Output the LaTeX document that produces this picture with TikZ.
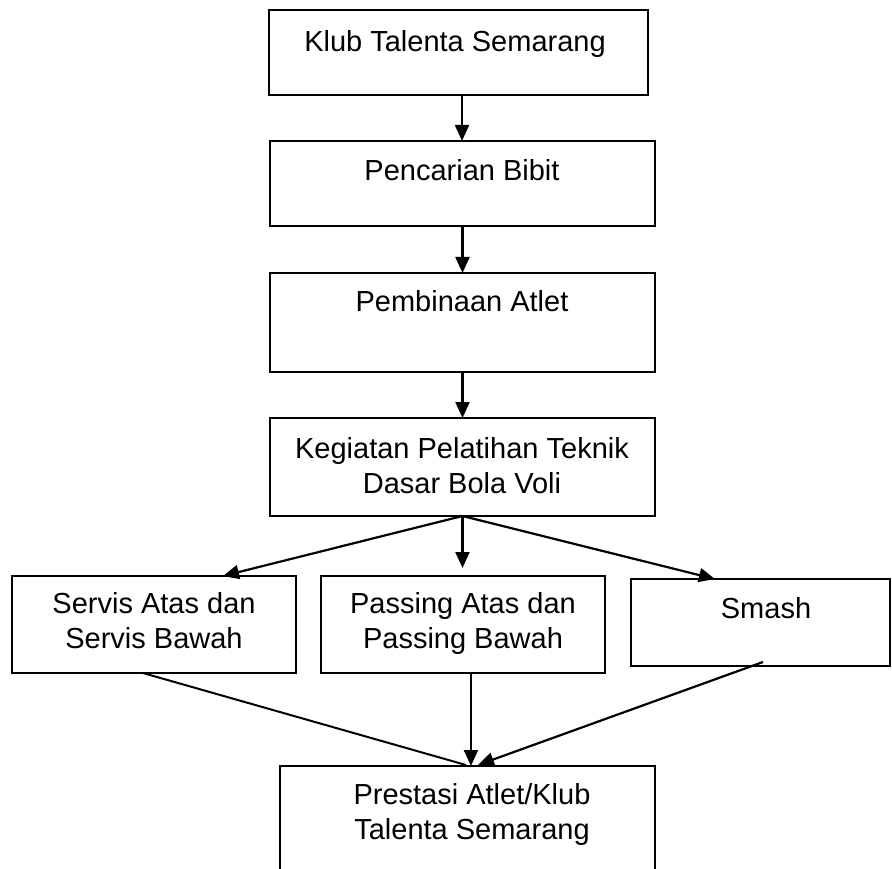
\documentclass[tikz,border=0pt]{standalone}
\usepackage{fontspec}
\setmainfont{Liberation Sans}
\usetikzlibrary{arrows.meta,calc}
\begin{document}
\begin{tikzpicture}[x=1pt,y=-1pt,
  box/.style={draw,line width=2pt,inner sep=0pt,outer sep=0pt},
  txt/.style={font=\fontsize{29}{34.5}\selectfont,inner sep=0pt,align=center,anchor=base},
  arr/.style={line width=2.2pt,-{Triangle[length=16pt,width=14pt]}},
  ln/.style={line width=2pt}]
\clip (0,0) rectangle (892,869);
\fill[white] (0,0) rectangle (892,869);
% boxes
\node[box,minimum width=379pt,minimum height=85pt] (b1) at (458.5,52.5) {};
\node[box,minimum width=385pt,minimum height=85pt] (b2) at (462,183.5) {};
\node[box,minimum width=385pt,minimum height=99pt] (b3) at (462.5,322.5) {};
\node[box,minimum width=385pt,minimum height=98pt] (b4) at (462.5,467) {};
\node[box,minimum width=284pt,minimum height=97pt] (L) at (154,624.5) {};
\node[box,minimum width=284pt,minimum height=97pt] (M) at (463,624.5) {};
\node[box,minimum width=259pt,minimum height=87pt] (S) at (760.5,622.5) {};
\node[box,minimum width=375pt,minimum height=134pt] (P) at (467.5,833) {};
% texts (multi-line nodes: base = last line)
\node[txt] (t1) at (455,52) {Klub Talenta Semarang};
\node[txt] (t2) at (462,181) {Pencarian Bibit};
\node[txt] (t3) at (462,312) {Pembinaan Atlet};
\node[txt] (t4) at (462,493) {Kegiatan Pelatihan Teknik\\Dasar Bola Voli};
\node[txt] (tL) at (154,648) {Servis Atas dan\\Servis Bawah};
\node[txt] (tM) at (463,648) {Passing Atas dan\\Passing Bawah};
\node[txt] (tS) at (766,618) {Smash};
\node[txt] (tP) at (472,839) {Prestasi Atlet/Klub\\Talenta Semarang};
% vertical arrows
\draw[arr] (b2.north |- b1.south) -- (b2.north);
\draw[arr] (b3.north |- b2.south) -- (b3.north);
\draw[arr] (b3.south) -- (b4.north);
% fan
\coordinate (fanL) at ($(L.north west)!0.743!(L.north east)$);
\coordinate (fanS) at ($(S.north west)!0.324!(S.north east)$);
\draw[arr] (b4.south) -- (fanL);
\draw[arr,shorten >=8pt] (b4.south) -- (b4.south |- M.north);
\draw[arr] (b4.south) -- (fanS);
% converge
\coordinate (outL) at ($(L.south west)!0.461!(L.south east)$);
\coordinate (outM) at ($(M.south west)!0.528!(M.south east)$);
\coordinate (outS) at ($(S.south)+(2.5,-4)$);
\coordinate (inL) at (466,765);
\coordinate (inM) at (outM |- P.north);
\coordinate (inS) at (478,765);
\draw[ln] (outL) -- (inL);
\draw[arr] (outM) -- (inM);
\draw[arr] (outS) -- (inS);
\end{tikzpicture}
\end{document}
